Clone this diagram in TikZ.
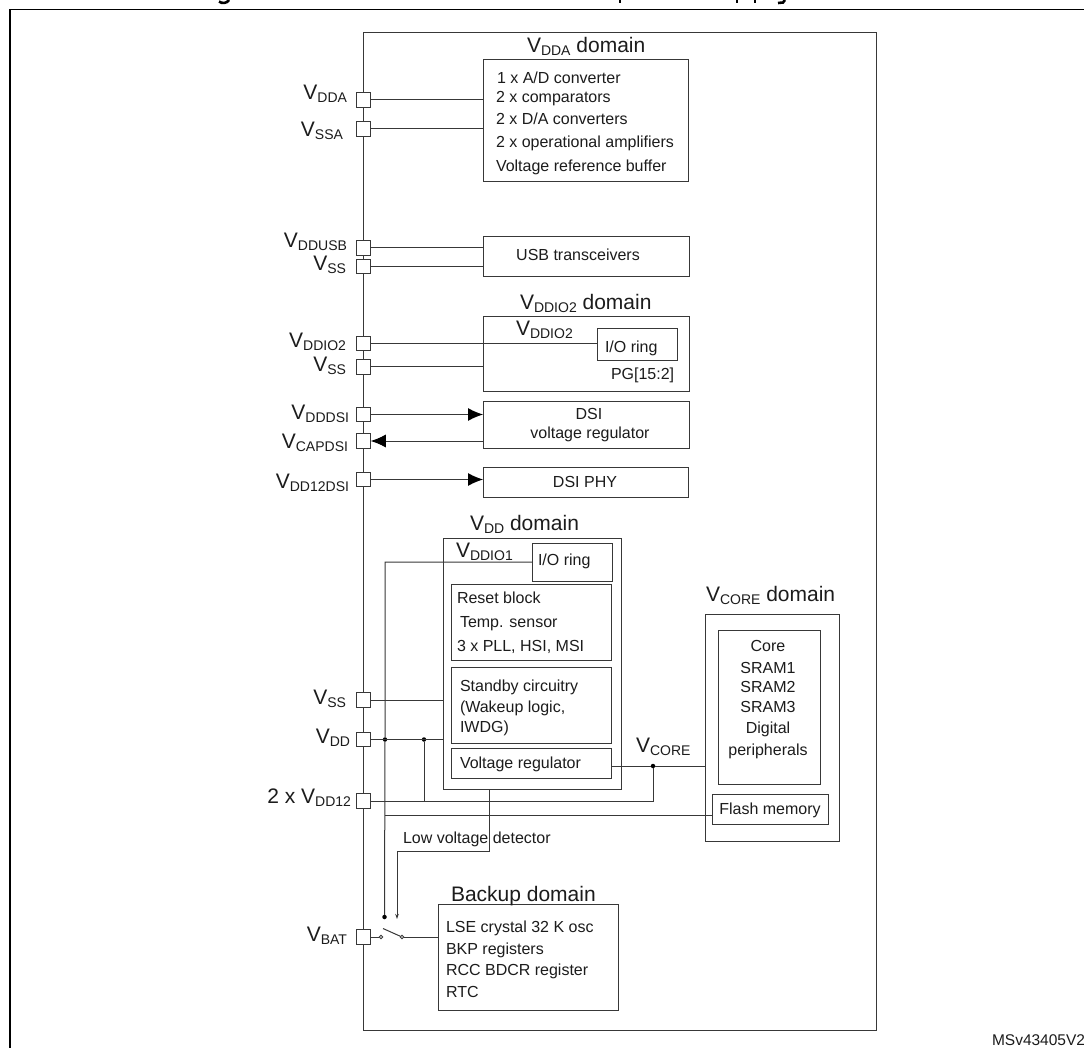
\documentclass[tikz,border=0pt]{standalone}
\usepackage{fontspec}
\setmainfont{Liberation Sans}
\usetikzlibrary{arrows.meta}
\definecolor{ink}{HTML}{1C1C1C}
\definecolor{stroke}{HTML}{383838}
\newcommand\Vs[1]{\fontsize{21}{21}\selectfont V\raisebox{-3pt}{\fontsize{14}{14}\selectfont #1}}
\newcommand\Dm[1]{\Vs{#1}\fontsize{21}{21}\selectfont\ domain}
\newcommand\bx[6][]{\node[blockbox,#1,minimum width=#4pt-#2pt,minimum height=#5pt-#3pt] (#6) at ({(#2+#4)/2},{(#3+#5)/2}) {};}
\newcommand\pinsq[2]{\node[pinbox] (#1) at (363.5,#2) {};}
\newcommand\lR[4]{\node[lblR] (#1) at (#2,#3) {#4};}
\newcommand\lL[4]{\node[lblL] (#1) at (#2,#3) {#4};}
\newcommand\lC[4]{\node[lblC] (#1) at (#2,#3) {#4};}
\tikzset{
 x=1pt,y=-1pt,
 wire/.style={draw=stroke,line width=1pt},
 blockbox/.style={draw=stroke,line width=1pt,fill=none,inner sep=0pt,outer sep=0pt},
 pinbox/.style={draw=stroke,line width=1pt,fill=white,minimum size=14.5pt,inner sep=0pt,outer sep=0pt},
 txt/.style={inner sep=0pt,outer sep=0pt,text=ink,font=\fontsize{16}{16}\selectfont},
 lblR/.style={txt,anchor=base east},
 lblL/.style={txt,anchor=base west},
 lblC/.style={txt,anchor=base},
 dotj/.style={circle,fill=black,draw=none,minimum size=4.5pt,inner sep=0pt,outer sep=0pt},
 ring/.style={circle,draw=stroke,line width=0.8pt,fill=white,minimum size=3.5pt,inner sep=0pt,outer sep=0pt},
 bigtip/.style={-{Latex[length=15pt,width=13pt,color=black]}},
 smalltip/.style={-{Stealth[length=5pt,width=3.5pt]}},
 frameline/.style={draw=black,line width=1.6pt},
 titleink/.style={draw=black,line width=2.6pt},
}
\begin{document}
\begin{tikzpicture}
\useasboundingbox (0,0) rectangle (1084,1048);
\clip (0,0) rectangle (1084,1048);
\fill[white] (0,0) rectangle (1084,1048);
% outer frame (runs off the page)
\coordinate (fa) at (10,1048);
\coordinate (fb) at (10,9.5);
\coordinate (fc) at (1084,9.5);
\draw[frameline] (fa) -- (fb) -- (fc);
% cropped descenders of the title
\draw[titleink] (219,1.5) .. controls (222,3.8) and (227,3.5) .. (229,0);
\draw[titleink] (620,0) -- (620,3.5);
\draw[titleink] (737,0) -- (737,3.5);
\draw[titleink] (755,0) -- (755,3.5);
\draw[titleink] (778,3) -- (783,2.5) -- (785,0);
% chip
\bx{363}{33}{876}{1030}{chip}
% boxes
\bx{483}{60}{688}{182}{adda}
\bx{483}{237}{689}{277}{usb}
\bx{483}{317}{689}{391}{dio}
\bx{597}{329}{677}{361}{ioa}
\bx{483}{401}{689}{448}{dsi}
\bx{483}{467}{688}{497}{phy}
\bx{443}{538}{621}{789}{vdd}
\bx{532}{543}{612}{581}{iob}
\bx{451}{584}{611}{660}{rst}
\bx{451}{667}{611}{743}{stb}
\bx{451}{748}{611}{778}{reg}
\bx{705}{614}{839}{841}{cor}
\bx{718}{630}{820}{784}{sram}
\bx{712}{794}{828}{824}{flash}
\bx{438}{904}{618}{1010}{bak}
% pins
\pinsq{pDDA}{100}
\pinsq{pSSA}{129}
\pinsq{pUSB}{248}
\pinsq{pSa}{266.5}
\pinsq{pIO}{343.5}
\pinsq{pSb}{367}
\pinsq{pDSI}{414.5}
\pinsq{pCAP}{441}
\pinsq{pPHY}{479.5}
\pinsq{pSc}{700}
\pinsq{pDD}{739.5}
\pinsq{pT}{801}
\pinsq{pBAT}{937}
% junctions and switch
\node[dotj] (j1) at (385,739.5) {};
\node[dotj] (j2) at (424,739.5) {};
\node[dotj] (j3) at (653,766) {};
\node[dotj] (j4) at (384.5,917) {};
\node[ring] (s1) at (381,937) {};
\node[ring] (s2) at (402,937) {};
\coordinate (bl) at (383,928.5);
\coordinate (ard) at (397,919);
\coordinate (lv1) at (489,851);
\coordinate (lv2) at (397,851);
% connectors
\draw[wire] (pDDA.east) -- (pDDA.east -| adda.west);
\draw[wire] (pSSA.east) -- (pSSA.east -| adda.west);
\draw[wire] (pUSB.east) -- (pUSB.east -| usb.west);
\draw[wire] (pSa.east) -- (pSa.east -| usb.west);
\draw[wire] (pIO.east) -- (pIO.east -| ioa.west);
\draw[wire] (pSb.east) -- (pSb.east -| dio.west);
\draw[wire,bigtip] (pDSI.east) -- (pDSI.east -| dsi.west);
\draw[wire,bigtip] (pCAP.east -| dsi.west) -- (pCAP.east);
\draw[wire,bigtip] (pPHY.east) -- (pPHY.east -| phy.west);
\draw[wire] (pSc.east) -- (pSc.east -| vdd.west);
\draw[wire] (pDD.east) -- (pDD.east -| vdd.west);
\draw[wire] (iob.west |- 0,562) -- (385,562) -- (j1) -- (j4);
\draw[wire] (j2) -- (j2 |- pT.east);
\draw[wire] (pT.east) -- (pT.east -| j3) -- (j3);
\draw[wire] (reg.east |- j3) -- (j3) -- (j3 -| cor.west);
\draw[wire] (385,815) -- (flash.west |- 0,815);
\draw[wire] (lv1 |- vdd.south) -- (lv1) -- (lv2);
\draw[wire,smalltip] (lv2) -- (ard);
\draw[wire] (pBAT.east) -- (s1);
\draw[wire] (bl) -- (s2);
\draw[wire] (s2) -- (s2 -| bak.west);
% pin labels
\lR{tDDA}{347}{100}{\Vs{DDA}}
\lR{tSSA}{343}{137}{\Vs{SSA}}
\lR{tUSB}{347}{248}{\Vs{DDUSB}}
\lR{tSa}{346}{271}{\Vs{SS}}
\lR{tIO}{346}{348}{\Vs{DDIO2}}
\lR{tSb}{346}{371}{\Vs{SS}}
\lR{tDSI}{349}{419}{\Vs{DDDSI}}
\lR{tCAP}{348}{448}{\Vs{CAPDSI}}
\lR{tPHY}{349}{488}{\Vs{DD12DSI}}
\lR{tSc}{346}{704}{\Vs{SS}}
\lR{tDD}{350}{743}{\Vs{DD}}
\lR{tT}{351}{803}{\fontsize{21}{21}\selectfont 2 x \Vs{DD12}}
\lR{tBAT}{347}{941}{\Vs{BAT}}
% headings
\lL{hDDA}{527}{53}{\Dm{DDA}}
\lL{hIO}{520}{310}{\Dm{DDIO2}}
\lL{hDD}{470}{530}{\Dm{DD}}
\lL{hCO}{706}{601}{\Dm{CORE}}
\lL{hBK}{451}{901}{\fontsize{21}{21}\selectfont Backup domain}
\lL{vIOa}{516}{336}{\Vs{DDIO2}}
\lL{vIOb}{456}{557}{\Vs{DDIO1}}
\lL{vCO}{636}{752}{\Vs{CORE}}
% block text
\lL{a1}{497}{84}{1 x A/D converter}
\lL{a2}{496}{103}{2 x comparators}
\lL{a3}{496}{125}{2 x D/A converters}
\lL{a4}{496}{148}{2 x operational amplifiers}
\lL{a5}{496}{172}{Voltage reference buffer}
\lC{u1}{578}{261}{USB transceivers}
\lL{r1}{605}{353}{I/O ring}
\lL{r2}{611}{379}{PG[15:2]}
\lC{d1}{589}{419}{DSI}
\lC{d2}{590}{438}{voltage regulator}
\lC{d3}{585}{487}{DSI PHY}
\lL{r3}{538}{565}{I/O ring}
\lL{b1}{457}{603}{Reset block}
\lL{b2}{460}{627}{Temp. sensor}
\lL{b3}{457}{651}{3 x PLL, HSI, MSI}
\lL{b4}{460}{691}{Standby circuitry}
\lL{b5}{460}{712}{(Wakeup logic,}
\lL{b6}{460}{732}{IWDG)}
\lL{b7}{460}{768}{Voltage regulator}
\lC{c1}{768}{651}{Core}
\lC{c2}{768}{673}{SRAM1}
\lC{c3}{768}{692}{SRAM2}
\lC{c4}{768}{712}{SRAM3}
\lC{c5}{768}{733}{Digital}
\lC{c6}{768}{755}{peripherals}
\lC{c7}{770}{814}{Flash memory}
\lL{lv}{403}{843}{Low voltage detector}
\lL{k1}{446}{932}{LSE crystal 32 K osc}
\lL{k2}{446}{954}{BKP registers}
\lL{k3}{446}{975}{RCC BDCR register}
\lL{k4}{446}{997}{RTC}
\lL{ms}{992}{1045}{\fontsize{15.5}{15.5}\selectfont MSv43405V2}
\end{tikzpicture}
\end{document}
